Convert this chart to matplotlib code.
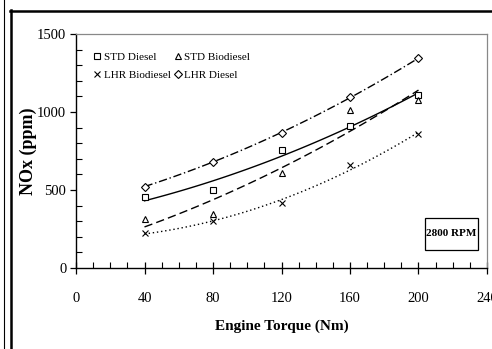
import numpy as np
import matplotlib
matplotlib.use("Agg")
import matplotlib.pyplot as plt
from matplotlib.lines import Line2D
from matplotlib.patches import Rectangle
from matplotlib.ticker import MultipleLocator

plt.rcParams['font.family'] = ['Liberation Serif', 'DejaVu Serif']

torque = [40, 80, 120, 160, 200]
std_diesel = [455, 497, 757, 913, 1112]
std_bio = [315, 345, 610, 1012, 1078]
lhr_bio = [222, 303, 414, 660, 858]
lhr_diesel = [522, 680, 868, 1093, 1345]

x_ticks = [0, 40, 80, 120, 160, 200, 240]
y_ticks = [0, 500, 1000, 1500]

fig = plt.figure(figsize=(4.92, 3.49), dpi=100)
ax = fig.add_axes([76/492, 1-268/349, 411/492, 234/349])

series = [
    ("STD Diesel", std_diesel, 's', '-'),
    ("STD Biodiesel", std_bio, '^', (0, (6, 3))),
    ("LHR Biodiesel", lhr_bio, 'x', (0, (1, 2))),
    ("LHR Diesel", lhr_diesel, 'D', (0, (6, 2, 1, 2))),
]

xs = np.array(torque, dtype=float)
xf = np.linspace(40, 200, 100)
handles = []
for name, vals, mk, ls in series:
    ms = 5 if mk != 'D' else 4
    h, = ax.plot(xs, vals, linestyle='none', marker=mk, markersize=ms,
                 markerfacecolor='white', markeredgecolor='black',
                 markeredgewidth=0.8, color='black', label=name, zorder=3)
    coef = np.polyfit(xs, vals, 2)
    ax.plot(xf, np.polyval(coef, xf), color='black', linestyle=ls, lw=1.0, zorder=2)
    handles.append(h)

ax.set_xlim(0, 240)
ax.set_ylim(0, 1500)
ax.set_xticks(x_ticks)
ax.set_yticks(y_ticks)
ax.xaxis.set_minor_locator(MultipleLocator(10))
ax.yaxis.set_minor_locator(MultipleLocator(100))
ax.tick_params(axis='x', which='major', direction='inout', length=9, width=0.9,
               labelsize=10.5, pad=13)
ax.tick_params(axis='x', which='minor', direction='in', length=4, width=0.8)
ax.tick_params(axis='y', which='major', direction='out', length=4, width=0.9,
               labelsize=10.5, pad=3)
ax.tick_params(axis='y', which='minor', direction='in', length=4, width=0.8)

for s in ['top', 'right']:
    ax.spines[s].set_color('#888888')
    ax.spines[s].set_linewidth(0.9)
for s in ['left', 'bottom']:
    ax.spines[s].set_color('black')
    ax.spines[s].set_linewidth(1.0)

ax.set_xlabel("Engine Torque (Nm)", fontsize=11, fontweight='bold', labelpad=10)
ax.set_ylabel("NOx (ppm)", fontsize=13, fontweight='bold')
ax.yaxis.set_label_coords((37-76)/411, 0.5)

order = [0, 2, 1, 3]
ax.legend([handles[i] for i in order], [series[i][0] for i in order],
          ncol=2, loc='upper left', bbox_to_anchor=(0.025, 0.955),
          frameon=False, fontsize=8, handlelength=0.6, handletextpad=0.3,
          columnspacing=0.3, labelspacing=0.75, borderpad=0.2)

# 2800 RPM box
ax.add_patch(Rectangle(((425-76)/411, (268-250)/234), 53/411, 32/234,
                       transform=ax.transAxes, fill=False, edgecolor='black',
                       lw=0.9, zorder=4))
ax.text((451.5-76)/411, (268-234)/234, "2800 RPM", transform=ax.transAxes,
        ha='center', va='center', fontsize=8, fontweight='bold', zorder=5)

# outer frame lines
fig.add_artist(Line2D([3.5/492, 3.5/492], [0, 1], color='black', lw=0.8,
                      transform=fig.transFigure))
fig.add_artist(Line2D([10.5/492, 10.5/492], [0, 1-10/349], color='black', lw=1.8,
                      transform=fig.transFigure))
fig.add_artist(Line2D([10/492, 1], [1-10.5/349, 1-10.5/349], color='black', lw=1.8,
                      transform=fig.transFigure))

fig.savefig("out.png", dpi=100)
